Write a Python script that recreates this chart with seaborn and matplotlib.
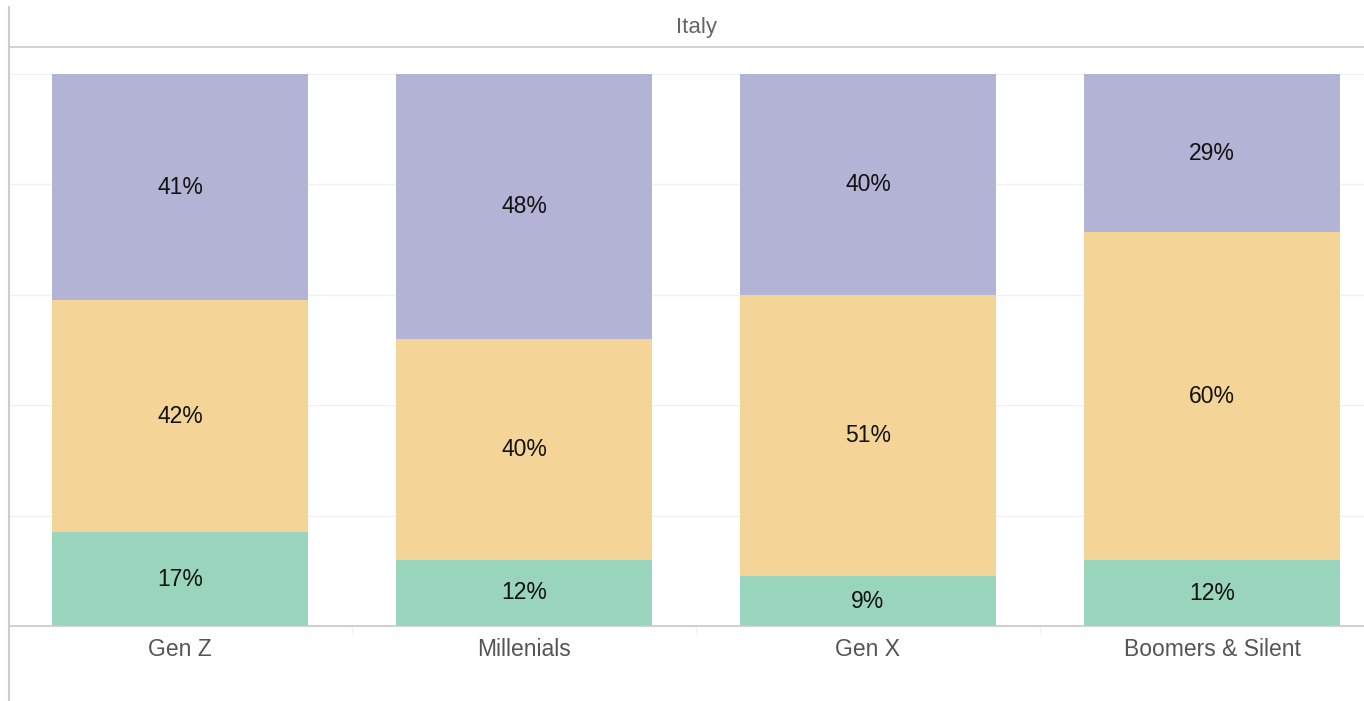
import numpy as np
import pandas as pd
import matplotlib
matplotlib.use("Agg")
import matplotlib.pyplot as plt
from matplotlib.lines import Line2D
import seaborn as sns

# chart data (percentages as shown on the chart)
generations = ["Gen Z", "Millenials", "Gen X", "Boomers & Silent"]
bottom_share = [17, 12, 9, 12]    # green
middle_share = [42, 40, 51, 60]   # yellow
top_share = [41, 48, 40, 29]      # purple
country = "Italy"

colors = {"bottom": "#98d5bc", "middle": "#f5d597", "top": "#b3b3d5"}

sns.set_theme(style="white")
plt.rcParams["font.family"] = ["Liberation Sans", "DejaVu Sans"]

df = pd.DataFrame({
    "generation": generations,
    "bottom": bottom_share,
    "middle": middle_share,
    "top": top_share,
})
# normalise each column to a 100% stack
totals = df[["bottom", "middle", "top"]].sum(axis=1)
for col in ["bottom", "middle", "top"]:
    df[col + "_n"] = df[col] / totals * 100
df["cum_bottom"] = df["bottom_n"]
df["cum_middle"] = df["bottom_n"] + df["middle_n"]
df["cum_top"] = df["cum_middle"] + df["top_n"]

fig = plt.figure(figsize=(13.64, 7.01), dpi=100)
ax = fig.add_axes([9 / 1364, 75 / 701, 1 - 9 / 1364, (626 - 74) / 701])

bar_w = 0.744
# draw cumulative heights from tallest to shortest so they overlap into a stack
for key in ["top", "middle", "bottom"]:
    sns.barplot(data=df, x="generation", y="cum_" + key, color=colors[key],
                width=bar_w, saturation=1, linewidth=0, ax=ax, zorder=2)

# segment labels
for i, row in df.iterrows():
    segs = [("bottom", 0, row["cum_bottom"]),
            ("middle", row["cum_bottom"], row["cum_middle"]),
            ("top", row["cum_middle"], row["cum_top"])]
    for key, lo, hi in segs:
        ax.text(i, (lo + hi) / 2, f"{row[key]}%", ha="center", va="center",
                fontsize=16.5, color="#111111", zorder=3)

ax.set_xlim(-0.497, 3.442)
ax.set_ylim(0, 100)
ax.set_yticks(np.arange(0, 101, 20))
ax.yaxis.grid(True, color="#f0f0f0", linewidth=1, zorder=0)
ax.tick_params(axis="y", left=False, labelleft=False)
ax.tick_params(axis="x", bottom=False, labelsize=16.5, labelcolor="#555555", pad=3)
ax.set_xticks(range(len(generations)))
ax.set_xticklabels(generations)
ax.set_xticks([0.5, 1.5, 2.5], minor=True)
ax.tick_params(axis="x", which="minor", bottom=True, length=5, color="#f0f0f0", width=1)
ax.set_xlabel("")
ax.set_ylabel("")
for side in ["top", "right", "left"]:
    ax.spines[side].set_visible(False)
ax.spines["bottom"].set_color("#c8c8c8")
ax.spines["bottom"].set_linewidth(1.2)

# header band with country name
fig.add_artist(Line2D([9 / 1364, 1], [1 - 47 / 701] * 2, color="#cccccc", linewidth=1.2))
fig.add_artist(Line2D([9 / 1364] * 2, [0, 1 - 7 / 701], color="#cccccc", linewidth=1.5))
fig.text(696 / 1364, 1 - 27 / 701, country, ha="center", va="center",
         fontsize=16, color="#666666")

fig.savefig("out.png", dpi=100, facecolor="white")
